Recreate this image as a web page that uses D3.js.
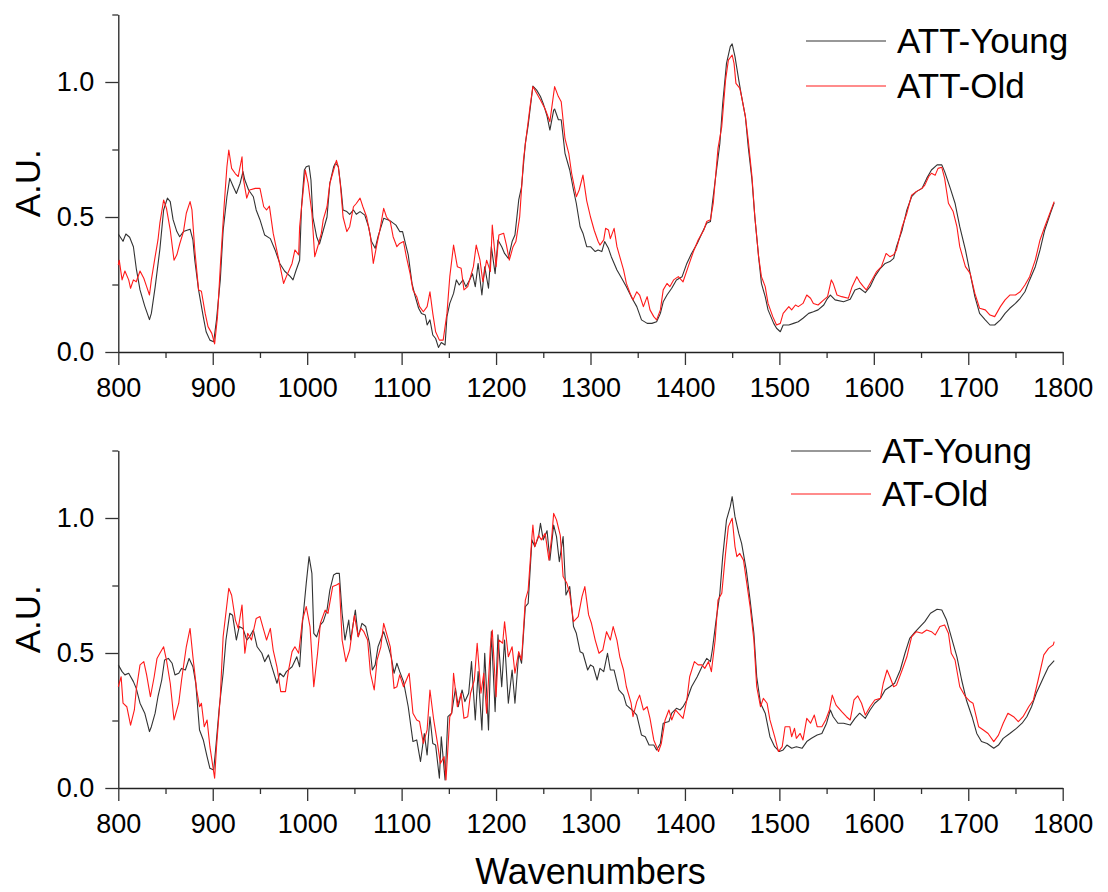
<!DOCTYPE html>
<html>
<head>
<meta charset="utf-8">
<script src="https://cdn.jsdelivr.net/npm/d3@7"></script>
<style>
  html, body { margin: 0; padding: 0; background: #fff; }
  svg { display: block; font-family: "Liberation Sans", Arial, sans-serif; }
</style>
</head>
<body>
<svg id="chart" width="1108" height="892"></svg>
<script>
// Raman spectra, [wavenumber, intensity (A.U.)]
const attYoung = [[800,.437],[805,.41],[808,.437],[812,.425],[816,.39],[819,.31],[823,.23],[828,.17],[833,.12],[835,.143],[839,.24],[844,.38],[848,.526],[852,.57],[855,.557],[858,.49],[862,.446],[865,.427],[869,.446],[872,.45],[876,.455],[879,.415],[881,.34],[885,.23],[890,.13],[893,.075],[897,.044],[901,.038],[904,.12],[908,.267],[911,.45],[915,.575],[918,.643],[922,.61],[925,.587],[929,.625],[932,.668],[934,.637],[938,.6],[943,.575],[946,.526],[950,.49],[955,.433],[961,.42],[966,.378],[971,.328],[976,.3],[982,.28],[985,.267],[988,.3],[992,.34],[994,.538],[997,.674],[999,.686],[1002,.69],[1004,.637],[1006,.5],[1010,.427],[1013,.4],[1017,.45],[1021,.5],[1024,.625],[1028,.686],[1030,.7],[1033,.686],[1036,.6],[1038,.526],[1042,.52],[1045,.51],[1049,.526],[1052,.51],[1056,.52],[1061,.507],[1065,.464],[1068,.41],[1072,.384],[1075,.427],[1081,.495],[1086,.489],[1089,.483],[1094,.47],[1098,.446],[1101,.446],[1104,.402],[1107,.36],[1111,.254],[1114,.211],[1118,.162],[1121,.143],[1125,.137],[1127,.1],[1130,.119],[1133,.063],[1136,.05],[1139,.017],[1142,.035],[1146,.026],[1148,.131],[1151,.18],[1155,.217],[1158,.267],[1161,.248],[1165,.267],[1168,.242],[1172,.267],[1175,.29],[1178,.242],[1181,.328],[1185,.211],[1188,.316],[1192,.236],[1195,.39],[1199,.29],[1202,.415],[1206,.39],[1209,.365],[1213,.347],[1217,.409],[1220,.433],[1224,.563],[1227,.612],[1231,.773],[1234,.84],[1239,.985],[1243,.97],[1247,.946],[1250,.92],[1254,.874],[1257,.822],[1261,.896],[1262,.9],[1266,.86],[1269,.86],[1273,.736],[1278,.674],[1282,.6],[1285,.55],[1289,.464],[1292,.44],[1296,.39],[1300,.39],[1305,.372],[1308,.378],[1312,.372],[1315,.409],[1319,.384],[1322,.353],[1328,.304],[1333,.273],[1338,.242],[1344,.199],[1349,.168],[1354,.119],[1360,.106],[1365,.106],[1370,.112],[1374,.143],[1377,.186],[1381,.211],[1386,.236],[1391,.267],[1397,.279],[1402,.328],[1407,.365],[1413,.402],[1418,.44],[1423,.477],[1427,.483],[1429,.55],[1433,.662],[1437,.773],[1440,.921],[1444,1.069],[1448,1.131],[1450,1.141],[1453,1.094],[1457,1.007],[1460,.946],[1464,.872],[1467,.76],[1471,.637],[1474,.501],[1478,.353],[1481,.254],[1485,.205],[1488,.156],[1494,.106],[1497,.088],[1501,.075],[1504,.1],[1510,.1],[1515,.106],[1520,.112],[1525,.125],[1531,.143],[1536,.149],[1541,.156],[1547,.174],[1551,.199],[1554,.211],[1559,.193],[1568,.186],[1575,.195],[1580,.23],[1585,.236],[1591,.22],[1596,.242],[1601,.279],[1607,.31],[1612,.328],[1617,.335],[1621,.347],[1624,.39],[1630,.452],[1635,.526],[1640,.575],[1645,.594],[1651,.606],[1656,.643],[1661,.674],[1667,.693],[1672,.693],[1675,.668],[1681,.606],[1686,.551],[1691,.464],[1697,.378],[1702,.291],[1707,.205],[1712,.143],[1718,.119],[1723,.1],[1728,.1],[1734,.119],[1739,.143],[1744,.162],[1750,.18],[1755,.199],[1760,.223],[1765,.267],[1771,.316],[1776,.378],[1781,.452],[1787,.514],[1791,.553]];

const attOld = [[800,.322],[801,.34],[804,.267],[807,.3],[811,.267],[813,.236],[816,.267],[819,.26],[823,.3],[827,.273],[830,.242],[833,.211],[835,.267],[839,.353],[842,.415],[844,.477],[848,.563],[851,.532],[855,.452],[859,.34],[862,.36],[865,.4],[869,.446],[872,.514],[876,.557],[878,.526],[881,.378],[885,.23],[888,.225],[892,.143],[895,.094],[899,.069],[902,.03],[905,.13],[908,.316],[912,.538],[915,.686],[917,.748],[920,.68],[924,.66],[927,.65],[931,.723],[932,.65],[936,.57],[939,.6],[945,.606],[950,.606],[954,.538],[957,.526],[960,.54],[964,.44],[970,.34],[975,.254],[978,.28],[984,.328],[987,.378],[991,.36],[992,.464],[998,.674],[1001,.625],[1005,.514],[1008,.353],[1012,.4],[1015,.44],[1017,.49],[1021,.538],[1024,.625],[1028,.674],[1031,.71],[1033,.686],[1035,.625],[1038,.5],[1042,.446],[1045,.464],[1049,.538],[1052,.55],[1056,.57],[1059,.538],[1063,.5],[1067,.427],[1070,.328],[1074,.402],[1077,.452],[1081,.532],[1084,.5],[1088,.483],[1091,.427],[1095,.39],[1098,.402],[1102,.409],[1105,.353],[1109,.29],[1112,.23],[1116,.205],[1119,.168],[1123,.149],[1127,.168],[1130,.223],[1133,.143],[1136,.075],[1140,.044],[1144,.044],[1148,.143],[1151,.279],[1155,.396],[1159,.316],[1163,.31],[1166,.23],[1170,.242],[1173,.279],[1176,.316],[1179,.396],[1183,.34],[1186,.26],[1190,.34],[1194,.298],[1196,.47],[1200,.316],[1203,.433],[1208,.44],[1211,.396],[1214,.34],[1218,.39],[1221,.409],[1225,.5],[1229,.711],[1232,.798],[1236,.909],[1239,.983],[1243,.958],[1247,.933],[1252,.9],[1257,.853],[1262,.983],[1266,.946],[1269,.927],[1273,.79],[1277,.736],[1280,.662],[1285,.575],[1288,.6],[1292,.655],[1296,.56],[1300,.5],[1304,.45],[1308,.41],[1310,.396],[1314,.415],[1316,.458],[1319,.452],[1321,.42],[1325,.458],[1328,.39],[1331,.353],[1335,.304],[1338,.254],[1342,.217],[1345,.193],[1349,.223],[1352,.211],[1356,.168],[1360,.205],[1363,.156],[1367,.131],[1370,.119],[1374,.156],[1377,.23],[1381,.254],[1384,.242],[1388,.267],[1393,.279],[1398,.26],[1404,.322],[1409,.372],[1414,.415],[1420,.452],[1423,.483],[1427,.49],[1430,.551],[1435,.754],[1439,.835],[1443,1.007],[1446,1.081],[1450,1.1],[1452,1.069],[1454,.995],[1458,.977],[1460,.946],[1464,.872],[1467,.785],[1471,.649],[1474,.501],[1478,.353],[1481,.279],[1485,.242],[1488,.18],[1493,.131],[1497,.1],[1501,.106],[1504,.143],[1510,.168],[1513,.156],[1517,.174],[1520,.168],[1525,.18],[1529,.211],[1533,.199],[1536,.18],[1541,.174],[1547,.193],[1551,.205],[1555,.267],[1557,.254],[1561,.211],[1566,.205],[1573,.199],[1577,.242],[1582,.279],[1585,.26],[1589,.242],[1592,.23],[1598,.267],[1603,.298],[1608,.316],[1613,.365],[1617,.353],[1621,.36],[1624,.378],[1630,.464],[1635,.514],[1640,.581],[1645,.594],[1651,.606],[1654,.618],[1658,.649],[1661,.662],[1665,.655],[1668,.68],[1672,.684],[1675,.643],[1679,.551],[1684,.52],[1688,.464],[1691,.39],[1697,.316],[1702,.291],[1707,.217],[1712,.162],[1718,.156],[1723,.137],[1728,.131],[1734,.168],[1739,.193],[1744,.211],[1750,.211],[1755,.223],[1760,.248],[1765,.279],[1771,.341],[1776,.415],[1781,.464],[1787,.52],[1791,.557]];

const atYoung = [[800,.456],[804,.431],[807,.419],[811,.425],[816,.394],[819,.369],[823,.314],[828,.277],[833,.209],[835,.227],[839,.277],[842,.338],[846,.4],[849,.474],[853,.48],[857,.462],[860,.419],[864,.425],[867,.443],[871,.437],[875,.48],[879,.449],[882,.388],[886,.215],[890,.178],[894,.116],[897,.073],[901,.067],[903,.141],[907,.301],[911,.425],[914,.548],[918,.647],[921,.64],[925,.548],[928,.598],[932,.591],[936,.548],[939,.56],[943,.585],[947,.523],[952,.499],[955,.468],[959,.493],[962,.456],[968,.388],[971,.425],[975,.412],[978,.431],[984,.449],[989,.486],[992,.449],[995,.61],[999,.758],[1002,.857],[1005,.795],[1007,.573],[1010,.56],[1014,.604],[1017,.616],[1021,.659],[1024,.733],[1028,.789],[1031,.795],[1034,.795],[1037,.647],[1040,.548],[1044,.622],[1046,.548],[1051,.659],[1054,.56],[1058,.61],[1062,.598],[1066,.536],[1069,.437],[1072,.456],[1075,.523],[1081,.579],[1086,.523],[1089,.486],[1092,.425],[1095,.462],[1098,.431],[1102,.394],[1107,.301],[1112,.172],[1116,.178],[1120,.098],[1124,.202],[1127,.122],[1130,.264],[1133,.165],[1136,.159],[1140,.036],[1142,.19],[1146,.03],[1149,.264],[1153,.277],[1157,.369],[1160,.301],[1164,.363],[1167,.32],[1171,.351],[1174,.468],[1178,.252],[1181,.431],[1185,.215],[1188,.499],[1192,.215],[1195,.579],[1199,.283],[1202,.567],[1206,.375],[1209,.548],[1213,.314],[1217,.437],[1220,.314],[1224,.499],[1227,.462],[1231,.672],[1234,.684],[1238,.919],[1241,.894],[1245,.931],[1247,.98],[1250,.919],[1254,.953],[1257,.844],[1261,.974],[1264,.931],[1267,.838],[1271,.931],[1274,.715],[1278,.746],[1282,.598],[1285,.573],[1289,.505],[1292,.499],[1297,.437],[1300,.456],[1303,.449],[1307,.4],[1310,.443],[1314,.431],[1318,.499],[1321,.437],[1325,.437],[1330,.363],[1335,.344],[1338,.307],[1344,.289],[1349,.27],[1354,.196],[1358,.19],[1362,.159],[1367,.159],[1370,.141],[1374,.165],[1377,.24],[1383,.246],[1386,.277],[1391,.295],[1395,.289],[1398,.301],[1402,.326],[1407,.375],[1413,.412],[1418,.449],[1423,.48],[1427,.468],[1429,.511],[1433,.622],[1437,.721],[1440,.857],[1444,.993],[1448,1.042],[1450,1.079],[1453,1.005],[1457,.943],[1460,.906],[1465,.807],[1469,.696],[1473,.573],[1476,.412],[1480,.314],[1485,.277],[1490,.19],[1495,.153],[1500,.135],[1504,.141],[1508,.159],[1513,.147],[1518,.153],[1524,.147],[1529,.172],[1534,.184],[1540,.196],[1545,.202],[1550,.24],[1554,.289],[1557,.264],[1562,.24],[1568,.24],[1575,.233],[1580,.258],[1585,.277],[1591,.258],[1596,.289],[1601,.314],[1607,.332],[1612,.363],[1617,.375],[1622,.388],[1628,.437],[1633,.499],[1638,.554],[1644,.579],[1649,.598],[1654,.616],[1660,.647],[1667,.662],[1672,.659],[1677,.622],[1682,.56],[1688,.486],[1693,.4],[1698,.326],[1704,.264],[1709,.202],[1714,.172],[1720,.165],[1727,.147],[1732,.159],[1737,.184],[1744,.202],[1751,.221],[1757,.24],[1762,.264],[1767,.301],[1772,.351],[1780,.412],[1785,.449],[1791,.472]];

const atOld = [[800,.375],[803,.412],[805,.314],[809,.301],[813,.233],[817,.289],[819,.363],[823,.456],[827,.468],[830,.419],[834,.338],[838,.412],[841,.48],[844,.499],[848,.523],[851,.474],[855,.388],[859,.252],[864,.314],[867,.4],[872,.523],[876,.591],[879,.486],[883,.363],[886,.301],[888,.314],[891,.227],[894,.252],[897,.153],[902,.036],[904,.153],[908,.338],[911,.56],[917,.74],[920,.714],[924,.622],[927,.591],[931,.678],[934,.499],[937,.573],[941,.548],[946,.628],[950,.635],[954,.585],[957,.548],[961,.591],[964,.511],[968,.449],[972,.357],[977,.357],[980,.431],[984,.505],[987,.523],[991,.499],[995,.622],[999,.672],[1003,.598],[1007,.375],[1011,.499],[1014,.61],[1019,.659],[1022,.647],[1027,.746],[1031,.752],[1034,.758],[1037,.548],[1041,.468],[1045,.511],[1050,.64],[1054,.56],[1057,.591],[1060,.579],[1064,.548],[1067,.425],[1071,.363],[1074,.474],[1078,.523],[1081,.61],[1084,.573],[1088,.523],[1089,.486],[1092,.369],[1095,.375],[1098,.419],[1102,.375],[1105,.4],[1108,.425],[1112,.277],[1116,.252],[1119,.246],[1123,.165],[1127,.215],[1130,.363],[1134,.252],[1138,.165],[1141,.091],[1145,.116],[1147,.03],[1151,.264],[1153,.277],[1155,.425],[1159,.301],[1163,.351],[1166,.258],[1170,.264],[1173,.351],[1177,.4],[1180,.536],[1184,.351],[1187,.425],[1190,.277],[1194,.523],[1196,.585],[1200,.338],[1203,.548],[1207,.536],[1209,.616],[1213,.486],[1217,.523],[1220,.425],[1224,.505],[1227,.474],[1231,.696],[1234,.733],[1238,.931],[1239,.974],[1241,.894],[1245,.936],[1248,.919],[1252,.943],[1256,.844],[1259,.931],[1261,1.017],[1264,.993],[1268,.936],[1271,.783],[1275,.758],[1278,.721],[1282,.616],[1287,.635],[1291,.709],[1294,.746],[1298,.641],[1301,.61],[1305,.548],[1309,.499],[1313,.511],[1317,.579],[1321,.548],[1324,.598],[1328,.548],[1331,.486],[1335,.437],[1338,.375],[1343,.314],[1345,.264],[1349,.32],[1352,.344],[1356,.289],[1360,.301],[1363,.258],[1367,.178],[1372,.135],[1375,.165],[1379,.252],[1383,.289],[1386,.252],[1390,.289],[1393,.277],[1398,.258],[1402,.326],[1405,.412],[1410,.468],[1414,.456],[1418,.456],[1421,.443],[1425,.468],[1428,.431],[1432,.548],[1435,.696],[1439,.721],[1443,.869],[1446,.968],[1450,.999],[1453,.894],[1455,.857],[1458,.869],[1462,.844],[1465,.77],[1469,.672],[1473,.548],[1476,.375],[1480,.301],[1483,.332],[1487,.314],[1490,.252],[1495,.19],[1499,.135],[1503,.153],[1506,.227],[1511,.227],[1513,.19],[1516,.221],[1518,.184],[1522,.202],[1525,.178],[1529,.258],[1533,.24],[1537,.27],[1540,.227],[1545,.227],[1549,.252],[1553,.289],[1556,.344],[1560,.307],[1566,.283],[1571,.264],[1575,.252],[1579,.326],[1583,.341],[1587,.314],[1591,.27],[1596,.301],[1601,.326],[1607,.332],[1610,.388],[1614,.437],[1617,.412],[1621,.375],[1624,.381],[1630,.437],[1635,.486],[1640,.56],[1645,.579],[1651,.573],[1656,.585],[1661,.579],[1665,.567],[1670,.598],[1675,.604],[1679,.573],[1682,.499],[1686,.474],[1691,.375],[1697,.338],[1702,.32],[1705,.314],[1711,.227],[1716,.215],[1721,.202],[1727,.172],[1732,.196],[1737,.24],[1742,.277],[1748,.264],[1753,.246],[1758,.264],[1764,.301],[1769,.326],[1774,.4],[1780,.493],[1785,.517],[1790,.53],[1791,.542]];

const xTicks = [800, 900, 1000, 1100, 1200, 1300, 1400, 1500, 1600, 1700, 1800];
const xMinorTicks = [850, 950, 1050, 1150, 1250, 1350, 1450, 1550, 1650, 1750];
const yTicks = [0.0, 0.5, 1.0];
const yMinorTicks = [0.25, 0.75, 1.25];
const xDomain = [800, 1800];
const yDomain = [0, 1.25];

const seriesColors = { young: "#333333", old: "#ff1a1a" };

const panels = [
  { young: attYoung, old: attOld, labels: ["ATT-Young", "ATT-Old"], top: 14.5, bottom: 352,
    legend: { x1: 806, x2: 886, tx: 897, y: [41, 86] } },
  { young: atYoung, old: atOld, labels: ["AT-Young", "AT-Old"], top: 450.5, bottom: 788,
    legend: { x1: 791, x2: 871, tx: 882, y: [451, 494] } }
];

const svg = d3.select("#chart");
const left = 118.3, right = 1062.7;
const x = d3.scaleLinear().domain(xDomain).range([left, right]);

panels.forEach(p => {
  const y = d3.scaleLinear().domain(yDomain).range([p.bottom, p.top]);
  const g = svg.append("g");

  // minor ticks
  const xMinor = d3.axisBottom(x).tickValues(xMinorTicks).tickSize(6).tickFormat("");
  g.append("g").attr("transform", `translate(0,${p.bottom})`).call(xMinor)
    .call(s => s.select(".domain").remove());
  const yMinor = d3.axisLeft(y).tickValues(yMinorTicks).tickSize(6).tickFormat("");
  g.append("g").attr("transform", `translate(${left},0)`).call(yMinor)
    .call(s => s.select(".domain").remove());

  // major axes
  const xAxis = d3.axisBottom(x).tickValues(xTicks).tickSize(13).tickSizeOuter(0)
    .tickPadding(13).tickFormat(d3.format("d"));
  g.append("g").attr("class", "xaxis").attr("transform", `translate(0,${p.bottom})`).call(xAxis);
  const yAxis = d3.axisLeft(y).tickValues(yTicks).tickSize(13).tickSizeOuter(0)
    .tickPadding(11).tickFormat(d3.format(".1f"));
  g.append("g").attr("class", "yaxis").attr("transform", `translate(${left},0)`).call(yAxis);

  g.selectAll(".tick line").attr("stroke", "#333").attr("stroke-width", 1.3);
  g.selectAll(".domain").attr("stroke", "#222").attr("stroke-width", 1.3);
  g.selectAll(".tick text").attr("fill", "#000").style("font-size", "27px")
    .style("font-family", "'Liberation Sans', Arial, sans-serif");

  // y-axis title
  g.append("text")
    .attr("transform", `translate(40,${(p.top + p.bottom) / 2}) rotate(-90)`)
    .attr("text-anchor", "middle")
    .style("font-size", "35px")
    .text("A.U.");

  // spectra
  const line = d3.line().x(d => x(d[0])).y(d => y(d[1]));
  g.append("path").datum(p.young).attr("d", line).attr("fill", "none")
    .attr("stroke", seriesColors.young).attr("stroke-width", 1.1).attr("stroke-linejoin", "round");
  g.append("path").datum(p.old).attr("d", line).attr("fill", "none")
    .attr("stroke", seriesColors.old).attr("stroke-width", 1.1).attr("stroke-linejoin", "round");

  // legend
  const lg = p.legend;
  [["young", 0], ["old", 1]].forEach(([k, i]) => {
    g.append("line").attr("x1", lg.x1).attr("x2", lg.x2).attr("y1", lg.y[i]).attr("y2", lg.y[i])
      .attr("stroke", seriesColors[k]).attr("stroke-width", 1.1);
    g.append("text").attr("x", lg.tx).attr("y", lg.y[i]).attr("dy", "0.35em")
      .style("font-size", "35px").text(p.labels[i]);
  });
});

// x-axis title
svg.append("text").attr("x", (left + right) / 2).attr("y", 884)
  .attr("text-anchor", "middle").style("font-size", "36px").text("Wavenumbers");
</script>
</body>
</html>
